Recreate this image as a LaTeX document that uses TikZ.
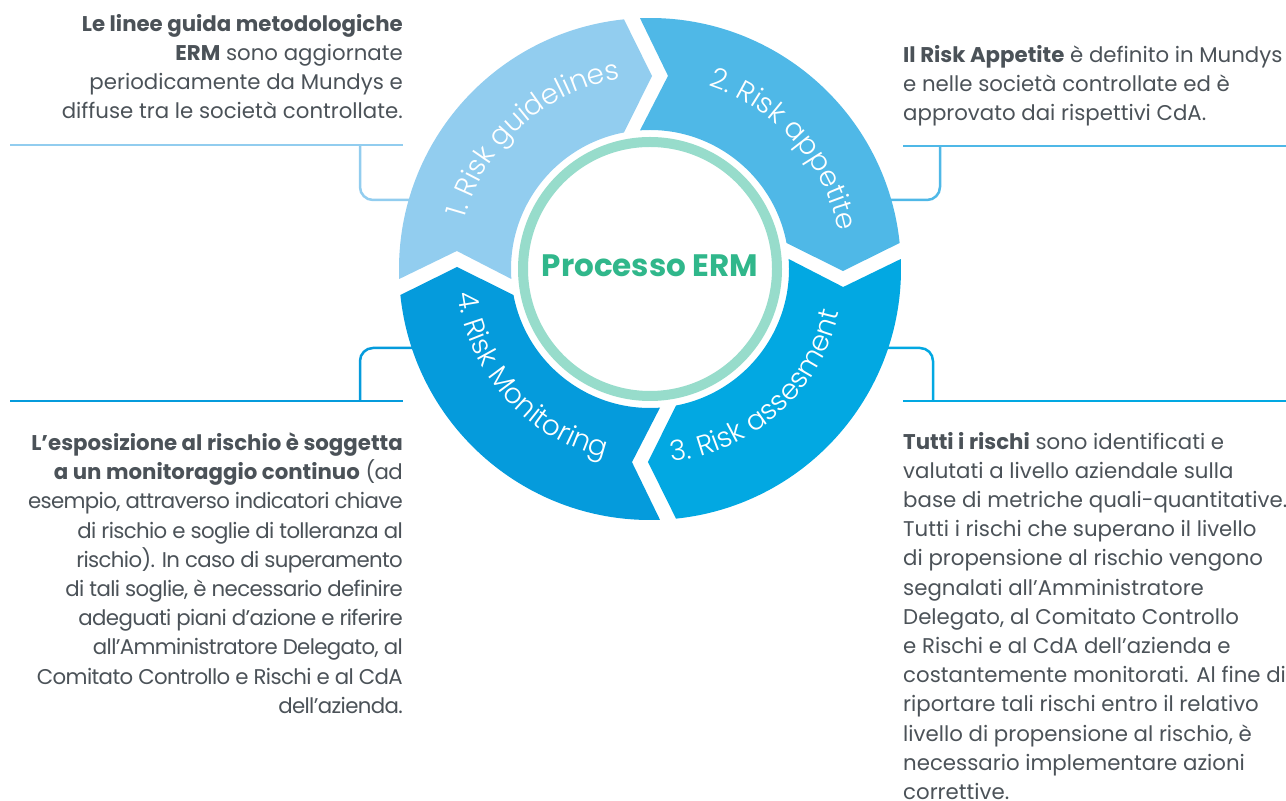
\documentclass[tikz,border=0pt]{standalone}
\usepackage{fontspec}
\setmainfont{Poppins}
\newfontfamily\ringfont{Poppins Light}
\newfontfamily\tightfont{Poppins}[LetterSpace=-3]
\usetikzlibrary{decorations.text}

\definecolor{seg1}{HTML}{92CDEF}
\definecolor{seg2}{HTML}{4FB8E7}
\definecolor{seg3}{HTML}{02A8E2}
\definecolor{seg4}{HTML}{059BDC}
\definecolor{ringteal}{HTML}{97DCCB}
\definecolor{ermgreen}{HTML}{30B78B}
\definecolor{notegray}{HTML}{4B5258}

\begin{document}
\begin{tikzpicture}[x=1pt, y=1pt,
  note/.style={inner sep=0pt, text=notegray, font=\fontsize{21.3}{29.2}\selectfont},
  rule/.style={line width=2.5pt, color=#1},
  elbow/.style={line width=2.5pt, color=#1, rounded corners=13pt},
  ringlabel/.style={decorate, decoration={text along path, text align=center,
      text={|\ringfont\fontsize{28}{32}\selectfont\color{white}|#1}}}
]
  \useasboundingbox (0,0) rectangle (1286,801);
  \coordinate (erm) at (650,532);

  % connectors (under the ring)
  \coordinate (tl-a) at (10,656);   \coordinate (tl-b) at (403,656);
  \coordinate (tl-c) at (360,656);  \coordinate (tl-d) at (360,601);
  \coordinate (tr-a) at (903,655);  \coordinate (tr-b) at (1286,655);
  \coordinate (tr-c) at (940,655);  \coordinate (tr-d) at (940,601);
  \coordinate (bl-a) at (10,400);   \coordinate (bl-b) at (403,400);
  \coordinate (bl-c) at (360,400);  \coordinate (bl-d) at (360,453);
  \coordinate (br-a) at (903,400);  \coordinate (br-b) at (1286,400);
  \coordinate (br-c) at (933,400);  \coordinate (br-d) at (933,453);

  \draw[rule=seg1] (tl-a) -- (tl-b);
  \draw[elbow=seg1] (tl-c) -- (tl-d) -- ++(70,0);
  \draw[rule=seg2] (tr-a) -- (tr-b);
  \draw[elbow=seg2] (tr-c) -- (tr-d) -- ++(-70,0);
  \draw[rule=seg4] (bl-a) -- (bl-b);
  \draw[elbow=seg4] (bl-c) -- (bl-d) -- ++(70,0);
  \draw[rule=seg3] (br-a) -- (br-b);
  \draw[elbow=seg3] (br-c) -- (br-d) -- ++(-70,0);

  % the four arrow segments of the cycle
  \foreach \col [count=\k from 0] in {seg1,seg2,seg3,seg4}{
    \begin{scope}[shift={(erm)}, rotate=-90*\k]
      \fill[\col] (182.28:251) arc[start angle=182.28, end angle=95.95, radius=251]
        -- (89.4:193) -- (100.78:139)
        arc[start angle=100.78, end angle=184.13, radius=139]
        -- (174.67:194) -- cycle;
    \end{scope}
  }

  % labels along the ring
  \path[ringlabel={1. Risk guidelines}] ([shift={(181.8:192)}]erm)
    arc[start angle=181.8, end angle=81.8, radius=192];
  \path[ringlabel={2. Risk appetite}] ([shift={(91.8:192)}]erm)
    arc[start angle=91.8, end angle=-8.2, radius=192];
  \path[ringlabel={3. Risk assesment}] ([shift={(-98.2:194)}]erm)
    arc[start angle=-98.2, end angle=1.8, radius=194];
  \path[ringlabel={4. Risk Monitoring}] ([shift={(171.8:194)}]erm)
    arc[start angle=171.8, end angle=271.8, radius=194];

  % centre
  \draw[ringteal, line width=10pt, fill=white] (erm) circle[radius=127];
  \node[font=\fontsize{31}{36}\selectfont\bfseries, text=ermgreen] (title) at (650,535) {Processo ERM};

  % notes (anchored at the baseline of their last line)
  \node[note, align=right, anchor=base east] (guidenote) at (403,682.3)
    {\textbf{Le linee guida metodologiche}\\
     \textbf{ERM} sono aggiornate\\
     periodicamente da Mundys e\\
     diffuse tra le società controllate.};
  \node[note, align=left, anchor=base west] (appetitenote) at (903,680)
    {\textbf{Il Risk Appetite} è definito in Mundys\\
     e nelle società controllate ed è\\
     approvato dai rispettivi CdA.};
  \node[note, align=right, anchor=base east] (monitornote) at (403,87.7)
    {\textbf{L’esposizione al rischio è soggetta}\\
     \textbf{a un monitoraggio continuo} {\tightfont(ad}\\
     {\tightfont esempio, attraverso indicatori chiave}\\
     {\tightfont di rischio e soglie di tolleranza al}\\
     {\tightfont rischio). In caso di superamento}\\
     {\tightfont di tali soglie, è necessario definire}\\
     {\tightfont adeguati piani d’azione e riferire}\\
     {\tightfont all’Amministratore Delegato, al}\\
     {\tightfont Comitato Controllo e Rischi e al CdA}\\
     {\tightfont dell’azienda.}};
  \node[note, align=left, anchor=base west] (assessnote) at (903,1.6)
    {\textbf{Tutti i rischi} sono identificati e\\
     valutati a livello aziendale sulla\\
     base di metriche quali-quantitative.\\
     Tutti i rischi che superano il livello\\
     di propensione al rischio vengono\\
     segnalati all’Amministratore\\
     Delegato, al Comitato Controllo\\
     e Rischi e al CdA dell’azienda e\\
     costantemente monitorati. Al fine di\\
     riportare tali rischi entro il relativo\\
     livello di propensione al rischio, è\\
     necessario implementare azioni\\
     correttive.};
\end{tikzpicture}
\end{document}
